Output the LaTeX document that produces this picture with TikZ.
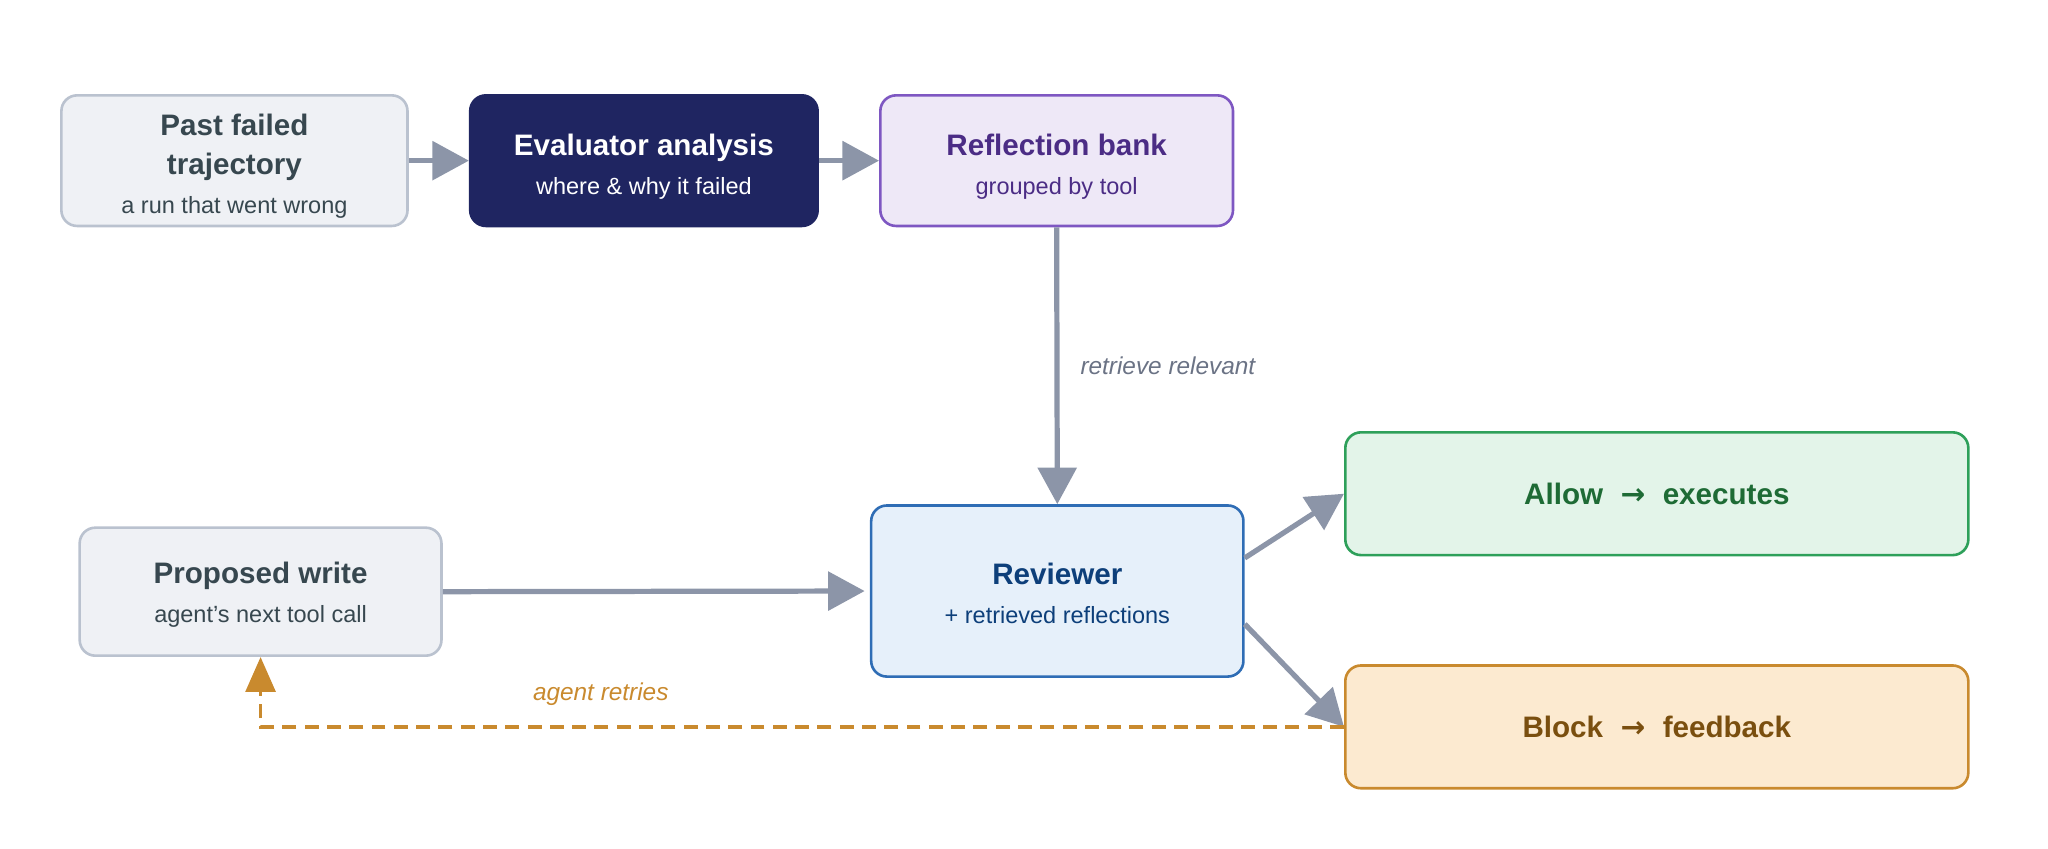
\documentclass[tikz,border=0pt]{standalone}
\usepackage{fontspec}
\setmainfont{Liberation Sans}
\newfontfamily\arrowfont{DejaVu Sans}
\usetikzlibrary{positioning}
\usetikzlibrary{arrows.meta}

\definecolor{slateink}{HTML}{37474F}
\definecolor{slatefill}{HTML}{EFF1F5}
\definecolor{slateline}{HTML}{BAC2CF}
\definecolor{navyfill}{HTML}{1F2561}
\definecolor{bankfill}{HTML}{EEE8F7}
\definecolor{bankline}{HTML}{7E57C2}
\definecolor{bankink}{HTML}{4B2C85}
\definecolor{revfill}{HTML}{E6F0FA}
\definecolor{revline}{HTML}{2F6DB5}
\definecolor{revink}{HTML}{0D3F7A}
\definecolor{allowfill}{HTML}{E3F4E9}
\definecolor{allowline}{HTML}{2EA05A}
\definecolor{allowink}{HTML}{1E6B35}
\definecolor{blockfill}{HTML}{FCEAD0}
\definecolor{blockline}{HTML}{C98A2E}
\definecolor{blockink}{HTML}{7A4F0F}
\definecolor{flowgray}{HTML}{8C95A8}
\definecolor{notegray}{HTML}{6B7385}

\newcommand{\headfont}{\bfseries\fontsize{17}{22.5}\selectfont}
\newcommand{\notefont}{\mdseries\fontsize{13.5}{22.5}\selectfont}
\newcommand{\tagfont}{\itshape\fontsize{14}{18}\selectfont}
\newcommand{\thickarrow}{\hspace{10pt}{\arrowfont\bfseries →}\hspace{10pt}}
\newcommand{\lift}[1]{\rule{0pt}{#1}}

\begin{document}
\begin{tikzpicture}[x = 0.75pt, y = -0.75pt,
	card/.style = {rounded corners = 9pt, line width = 1.5pt, align = center, inner sep = 0pt, font = \headfont},
	slatecard/.style = {card, draw = slateline, fill = slatefill, text = slateink},
	flow/.style = {draw = flowgray, line width = 3pt, -{Triangle[length = 21pt, width = 22pt]}},
	retry/.style = {draw = blockline, line width = 2.2pt, dash pattern = on 8pt off 4.8pt, -{Triangle[length = 20pt, width = 17pt]}}]
	\useasboundingbox (0, 0) rectangle (1568, 650);
	% top row
	\node[slatecard, minimum width = 198.75pt, minimum height = 75pt] (past) at (179.5, 123) {\lift{19pt}Past failed\\trajectory\\\notefont a run that went wrong};
	\node[card, draw = navyfill, fill = navyfill, text = white, minimum width = 199.5pt, minimum height = 75pt] (eval) at (493, 123) {\lift{19pt}Evaluator analysis\\\notefont where \& why it failed};
	\node[card, draw = bankline, fill = bankfill, text = bankink, minimum width = 202.5pt, minimum height = 75pt] (bank) at (809, 123) {\lift{19pt}Reflection bank\\\notefont grouped by tool};
	% bottom row
	\node[slatecard, minimum width = 207.75pt, minimum height = 73.5pt] (prop) at (199.5, 453) {\lift{16pt}Proposed write\\\notefont agent's next tool call};
	\node[card, draw = revline, fill = revfill, text = revink, minimum width = 213.75pt, minimum height = 98.25pt] (rev) at (809.5, 452.5) {\lift{15pt}Reviewer\\\notefont + retrieved reflections};
	\node[card, draw = allowline, fill = allowfill, text = allowink, minimum width = 357.75pt, minimum height = 70.5pt] (allow) at (1268.5, 378) {Allow\thickarrow executes};
	\node[card, draw = blockline, fill = blockfill, text = blockink, minimum width = 357.75pt, minimum height = 70.5pt] (block) at (1268.5, 556.5) {Block\thickarrow feedback};
	% connectors
	\draw[flow] (past) -- (eval);
	\draw[flow] (eval) -- (bank);
	\draw[flow] (bank.south) -- (rev.north) node[midway, right = 12pt, inner sep = 0pt, text = notegray, font = \tagfont] {retrieve relevant};
	\draw[flow, shorten > = 3pt] (prop.east) -- (rev.west);
	\draw[flow] (rev.10.5) -- (allow.west);
	\draw[flow] (rev.-10.5) -- (block.west);
	\draw[retry] (block.west) -| (prop.south) node[pos = 0.343, above = 11pt, inner sep = 0pt, text = blockline, font = \tagfont] {agent retries};
\end{tikzpicture}
\end{document}
